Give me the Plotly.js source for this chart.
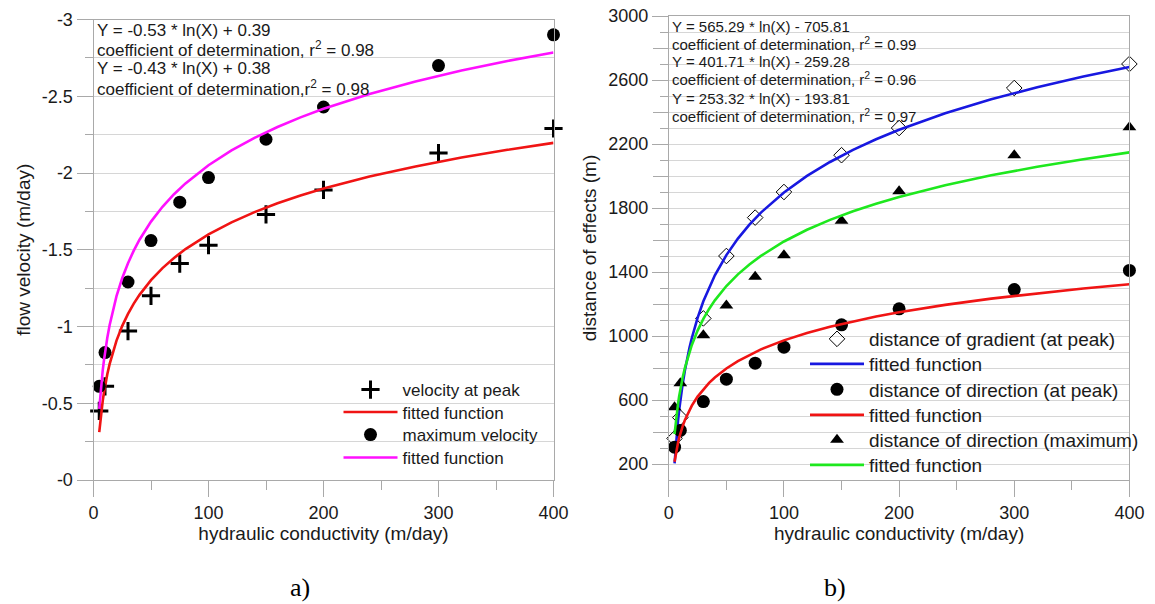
<!DOCTYPE html>
<html><head><meta charset="utf-8">
<script src="https://cdn.plot.ly/plotly-3.0.1.min.js"></script>
<style>html,body{margin:0;padding:0;background:#fff}#chart{width:1155px;height:604px}</style>
</head><body><div id="chart"></div>
<script>
// ---- data ----
const conductivity = [5, 10, 30, 50, 75, 100, 150, 200, 300, 400];
const velocityAtPeak = [-0.45, -0.61, -0.97, -1.20, -1.41, -1.53, -1.73, -1.89, -2.13, -2.29];
const maximumVelocity = [-0.61, -0.83, -1.29, -1.56, -1.81, -1.97, -2.22, -2.43, -2.70, -2.90];
const gradientDistance = [360, 490, 1110, 1500, 1740, 1900, 2130, 2300, 2550, 2700];
const directionDistancePeak = [305, 410, 590, 730, 830, 930, 1070, 1170, 1290, 1410];
const directionDistanceMax = [555, 705, 1005, 1190, 1370, 1505, 1720, 1905, 2130, 2305];

// fitted functions Y = a*ln(X) + b, coefficients as printed on the chart
const peakVelocityFit = [-0.43, 0.38];
const maxVelocityFit = [-0.53, 0.39];
const gradientFit = [565.29, -705.81];
const directionMaxFit = [401.71, -259.28];
const directionPeakFit = [253.32, -193.81];
const fitX = [5, 6, 7, 8, 9, 10, 12, 14, 16, 18, 20, 25, 30, 35, 40, 50, 60, 70, 80, 100, 120, 140, 160, 180, 200, 240, 280, 320, 360, 400];

const xTickVals = [0, 100, 200, 300, 400];
const xMinorVals = [50, 150, 250, 350];
const leftYTickVals = [-3, -2.5, -2, -1.5, -1, -0.5, 0];
const leftYTickText = ['-3', '-2.5', '-2', '-1.5', '-1', '-0.5', '-0'];
const leftYMinorVals = [-2.75, -2.25, -1.75, -1.25, -0.75, -0.25];
const rightYTickVals = [200, 600, 1000, 1400, 1800, 2200, 2600, 3000];
const rightYMidVals = [400, 800, 1200, 1600, 2000, 2400, 2800];
const rightYMinorVals = [300, 400, 500, 700, 800, 900, 1100, 1200, 1300, 1500, 1600, 1700, 1900, 2000, 2100, 2300, 2400, 2500, 2700, 2800, 2900];

const leftNotes = ['Y = -0.53 * ln(X) + 0.39', 'coefficient of determination, r<sup>2</sup> = 0.98',
                   'Y = -0.43 * ln(X) + 0.38', 'coefficient of determination,r<sup>2</sup> = 0.98'];
const rightNotes = ['Y = 565.29 * ln(X) - 705.81', 'coefficient of determination, r<sup>2</sup> = 0.99',
                    'Y = 401.71 * ln(X) - 259.28', 'coefficient of determination, r<sup>2</sup> = 0.96',
                    'Y = 253.32 * ln(X) - 193.81', 'coefficient of determination, r<sup>2</sup> = 0.97'];

function fitY(c) { return fitX.map(x => c[0] * Math.log(x) + c[1]); }

const W = 1155, H = 604;
const px = v => v / W, py = v => (H - v) / H;
const gridC = '#d6d6d6', axisC = '#a9a9a9', txtC = '#1a1a1a';
const FONT = 'Liberation Sans, Arial, sans-serif';

const traces = [
  {x: conductivity, y: velocityAtPeak, mode: 'markers', name: 'velocity at peak', xaxis: 'x', yaxis: 'y', legend: 'legend',
   cliponaxis: false, marker: {symbol: 'cross-thin', size: 13, color: '#000', line: {width: 3, color: '#000'}}},
  {x: fitX, y: fitY(peakVelocityFit), mode: 'lines', name: 'fitted function', xaxis: 'x', yaxis: 'y', legend: 'legend3',
   line: {color: '#f01414', width: 2.6}},
  {x: conductivity, y: maximumVelocity, mode: 'markers', name: 'maximum velocity', xaxis: 'x', yaxis: 'y', legend: 'legend4',
   cliponaxis: false, marker: {symbol: 'circle', size: 13, color: '#000'}},
  {x: fitX, y: fitY(maxVelocityFit), mode: 'lines', name: 'fitted function', xaxis: 'x', yaxis: 'y', legend: 'legend5',
   line: {color: '#ff10ff', width: 2.6}},

  {x: conductivity, y: gradientDistance, mode: 'markers', name: 'distance of gradient (at peak)', xaxis: 'x2', yaxis: 'y2', legend: 'legend2',
   cliponaxis: false, marker: {symbol: 'diamond-open', size: 12, color: '#000', line: {width: 1, color: '#000'}}},
  {x: fitX, y: fitY(gradientFit), mode: 'lines', name: 'fitted function', xaxis: 'x2', yaxis: 'y2', legend: 'legend6',
   line: {color: '#1818e0', width: 2.6}},
  {x: conductivity, y: directionDistancePeak, mode: 'markers', name: 'distance of direction (at peak)', xaxis: 'x2', yaxis: 'y2', legend: 'legend7',
   cliponaxis: false, marker: {symbol: 'circle', size: 13, color: '#000'}},
  {x: fitX, y: fitY(directionPeakFit), mode: 'lines', name: 'fitted function', xaxis: 'x2', yaxis: 'y2', legend: 'legend8',
   line: {color: '#f01414', width: 2.6}},
  {x: conductivity, y: directionDistanceMax, mode: 'markers', name: 'distance of direction (maximum)', xaxis: 'x2', yaxis: 'y2', legend: 'legend9',
   cliponaxis: false, marker: {symbol: 'triangle-up', size: 12, color: '#000'}},
  {x: fitX, y: fitY(directionMaxFit), mode: 'lines', name: 'fitted function', xaxis: 'x2', yaxis: 'y2', legend: 'legend10',
   line: {color: '#1ee81e', width: 2.6}},
  // carrier for the longer 200-step ticks on the right axis
  {x: [null], y: [null], mode: 'markers', xaxis: 'x2', yaxis: 'y3', showlegend: false, hoverinfo: 'skip'}
];

function xAxis(domain, anchor) {
  return {
    domain: domain, anchor: anchor, range: [0, 400], tickmode: 'array', tickvals: xTickVals,
    ticks: 'outside', ticklen: 16, tickcolor: axisC, tickwidth: 1,
    showgrid: false, zeroline: false, showline: true, linecolor: axisC, linewidth: 1, mirror: true,
    tickfont: {size: 18, color: txtC, family: FONT},
    title: {text: 'hydraulic conductivity (m/day)', font: {size: 19, color: txtC, family: FONT}, standoff: 0},
    minor: {tickmode: 'array', tickvals: xMinorVals, ticks: 'outside', ticklen: 9, tickcolor: axisC, showgrid: false}
  };
}

const annotations = [];
leftNotes.forEach((t, i) => annotations.push({
  text: t, xref: 'paper', yref: 'paper', x: px(95), y: py([30, 48.5, 69, 87.5][i]),
  xanchor: 'left', yanchor: 'middle', showarrow: false, font: {size: 17, color: txtC, family: FONT}
}));
rightNotes.forEach((t, i) => annotations.push({
  text: t, xref: 'paper', yref: 'paper', x: px(670), y: py([26, 43.5, 61.5, 79, 98, 116][i]),
  xanchor: 'left', yanchor: 'middle', showarrow: false, font: {size: 15, color: txtC, family: FONT}
}));
annotations.push({text: 'a)', xref: 'paper', yref: 'paper', x: px(300), y: py(587), xanchor: 'center', yanchor: 'middle',
  showarrow: false, font: {size: 26, color: '#000', family: 'Liberation Serif, Times New Roman, serif'}});
annotations.push({text: 'b)', xref: 'paper', yref: 'paper', x: px(835), y: py(587), xanchor: 'center', yanchor: 'middle',
  showarrow: false, font: {size: 26, color: '#000', family: 'Liberation Serif, Times New Roman, serif'}});

function legendAt(xPix, yPix, size) {
  return {x: px(xPix), y: py(yPix), xanchor: 'left', yanchor: 'middle', bgcolor: 'rgba(0,0,0,0)', borderwidth: 0,
    font: {size: size, color: txtC, family: FONT}, itemwidth: 54, tracegroupgap: 0};
}
const leftRows = [390, 412.5, 435, 458];
const rightRows = [339, 364, 389.5, 415, 440, 465];

const layout = {
  width: W, height: H, autosize: false,
  margin: {l: 0, r: 0, t: 0, b: 0},
  paper_bgcolor: '#fff', plot_bgcolor: '#fff',
  font: {family: FONT, color: txtC},
  showlegend: true,
  xaxis: xAxis([px(93.5), px(553.5)], 'y'),
  xaxis2: xAxis([px(668.8), px(1129.4)], 'y2'),
  yaxis: {
    domain: [py(480), py(19.5)], anchor: 'x', range: [0, -3], tickmode: 'array', tickvals: leftYTickVals, ticktext: leftYTickText,
    ticks: 'outside', ticklen: 16, tickcolor: axisC, showgrid: true, gridcolor: gridC, zeroline: false,
    showline: true, linecolor: axisC, mirror: true, tickfont: {size: 18, color: txtC, family: FONT},
    title: {text: 'flow velocity (m/day)', font: {size: 19, color: txtC, family: FONT}, standoff: 6},
    minor: {tickmode: 'array', tickvals: leftYMinorVals, ticks: 'outside', ticklen: 8, tickcolor: axisC, showgrid: true, gridcolor: gridC}
  },
  yaxis2: {
    domain: [py(480), py(16)], anchor: 'x2', range: [100, 3000], tickmode: 'array', tickvals: rightYTickVals,
    ticks: 'outside', ticklen: 16, tickcolor: axisC, showgrid: true, gridcolor: gridC, zeroline: false,
    showline: true, linecolor: axisC, mirror: true, tickfont: {size: 18, color: txtC, family: FONT},
    title: {text: 'distance of effects (m)', font: {size: 19, color: txtC, family: FONT}, standoff: 6},
    minor: {tickmode: 'array', tickvals: rightYMinorVals, ticks: 'outside', ticklen: 8, tickcolor: axisC, showgrid: true, gridcolor: gridC}
  },
  yaxis3: {
    overlaying: 'y2', anchor: 'x2', side: 'left', range: [100, 3000], tickmode: 'array', tickvals: rightYMidVals,
    ticks: 'outside', ticklen: 15, tickcolor: axisC, showticklabels: false, showgrid: false, zeroline: false, showline: false
  },
  legend: legendAt(338.5, leftRows[0], 17),
  legend3: legendAt(338.5, leftRows[1], 17),
  legend4: legendAt(338.5, leftRows[2], 17),
  legend5: legendAt(338.5, leftRows[3], 17),
  legend2: legendAt(805, rightRows[0], 19),
  legend6: legendAt(805, rightRows[1], 19),
  legend7: legendAt(805, rightRows[2], 19),
  legend8: legendAt(805, rightRows[3], 19),
  legend9: legendAt(805, rightRows[4], 19),
  legend10: legendAt(805, rightRows[5], 19),
  annotations: annotations
};

Plotly.newPlot('chart', traces, layout, {displayModeBar: false, staticPlot: true});
</script>
</body></html>
